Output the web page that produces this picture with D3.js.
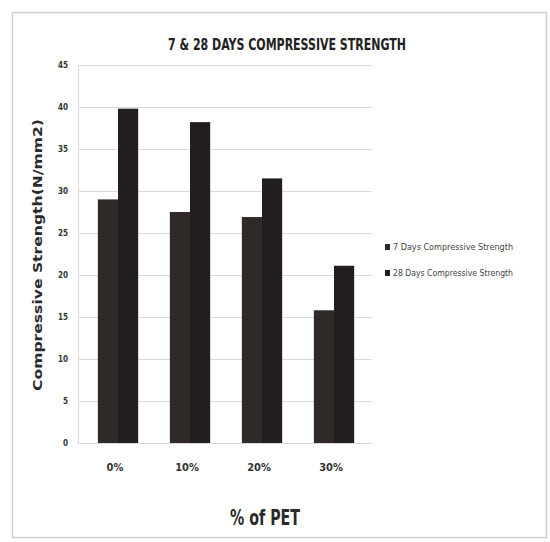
<!DOCTYPE html>
<html>
<head>
<meta charset="utf-8">
<script src="https://cdn.jsdelivr.net/npm/d3@7"></script>
<style>
  html, body { margin: 0; padding: 0; background: #fff; }
  svg { display: block; }
</style>
</head>
<body>
<svg id="chart" width="550" height="542"></svg>
<script>
// Compressive strength (N/mm2) by PET replacement level
const categories = ["0%", "10%", "20%", "30%"];
const seriesNames = ["7 Days Compressive Strength", "28 Days Compressive Strength"];
const days7 = [29.0, 27.5, 26.9, 15.8];
const days28 = [39.8, 38.2, 31.5, 21.1];
const yTicks = [0, 5, 10, 15, 20, 25, 30, 35, 40, 45];

const rows = categories.map((c, i) => ({ cat: c, values: [days7[i], days28[i]] }));

const svg = d3.select("#chart");
const font = "'DejaVu Sans Condensed', 'Liberation Sans Narrow', sans-serif";
const barColors = ["#2f2a28", "#221e1d"];

// chart frame
svg.append("rect")
  .attr("x", 12.5).attr("y", 12.5)
  .attr("width", 534).attr("height", 525)
  .attr("fill", "#fff")
  .attr("stroke", "#cfcfcf").attr("stroke-width", 1.5);

const plot = { left: 78, right: 372, top: 65, bottom: 443 };

const y = d3.scaleLinear().domain([0, 45]).range([plot.bottom, plot.top]);
const x0 = d3.scaleBand().domain(categories).range([82, 370])
  .paddingInner(0.44).paddingOuter(0.22);
const x1 = d3.scaleBand().domain([0, 1]).range([0, x0.bandwidth()]);

// horizontal gridlines
svg.append("g")
  .selectAll("line")
  .data(yTicks)
  .join("line")
  .attr("x1", plot.left).attr("x2", plot.right)
  .attr("y1", d => y(d) + 0.5).attr("y2", d => y(d) + 0.5)
  .attr("stroke", "#d9d9d9").attr("stroke-width", 1);

// value axis
const yAxis = svg.append("g")
  .attr("transform", `translate(${plot.left},0)`)
  .call(d3.axisLeft(y).tickValues(yTicks).tickSize(0).tickPadding(10));
yAxis.select(".domain").attr("stroke", "#d9d9d9");
yAxis.selectAll("text")
  .attr("font-family", font).attr("font-size", 8).attr("font-weight", "bold")
  .attr("fill", "#333");

// bars
svg.append("g")
  .selectAll("g")
  .data(rows)
  .join("g")
  .attr("transform", d => `translate(${x0(d.cat)},0)`)
  .selectAll("rect")
  .data(d => d.values.map((v, k) => ({ k, v })))
  .join("rect")
  .attr("x", d => x1(d.k))
  .attr("width", x1.bandwidth())
  .attr("y", d => y(d.v))
  .attr("height", d => y(0) - y(d.v))
  .attr("fill", d => barColors[d.k]);

// category axis
const xAxis = svg.append("g")
  .attr("transform", `translate(-3,${plot.bottom})`)
  .call(d3.axisBottom(x0).tickSize(0).tickPadding(20));
xAxis.select(".domain").remove();
xAxis.selectAll("text")
  .attr("font-family", font).attr("font-size", 11).attr("font-weight", "bold")
  .attr("fill", "#333");

// title
svg.append("text")
  .attr("x", 287).attr("y", 50)
  .attr("text-anchor", "middle")
  .attr("font-family", font).attr("font-size", 15).attr("font-weight", "bold")
  .attr("fill", "#222")
  .attr("textLength", 238).attr("lengthAdjust", "spacingAndGlyphs")
  .text("7 & 28 DAYS COMPRESSIVE STRENGTH");

// axis titles
svg.append("text")
  .attr("transform", "translate(42,255) rotate(-90)")
  .attr("text-anchor", "middle")
  .attr("font-family", font).attr("font-size", 13).attr("font-weight", "bold")
  .attr("fill", "#2a2a2a")
  .attr("textLength", 272).attr("lengthAdjust", "spacingAndGlyphs")
  .text("Compressive Strength(N/mm2)");

svg.append("text")
  .attr("x", 265).attr("y", 525)
  .attr("text-anchor", "middle")
  .attr("font-family", font).attr("font-size", 22).attr("font-weight", "bold")
  .attr("fill", "#2a2a2a")
  .attr("textLength", 70).attr("lengthAdjust", "spacingAndGlyphs")
  .text("% of PET");

// legend
const legend = svg.append("g")
  .selectAll("g")
  .data(seriesNames)
  .join("g")
  .attr("transform", (d, i) => `translate(385,${247 + i * 26})`);
legend.append("rect")
  .attr("x", 0).attr("y", -3).attr("width", 5).attr("height", 6)
  .attr("fill", (d, i) => barColors[i]);
legend.append("text")
  .attr("x", 8).attr("y", 3)
  .attr("font-family", font).attr("font-size", 8)
  .attr("fill", "#444")
  .attr("textLength", 120).attr("lengthAdjust", "spacingAndGlyphs")
  .text(d => d);
</script>
</body>
</html>
